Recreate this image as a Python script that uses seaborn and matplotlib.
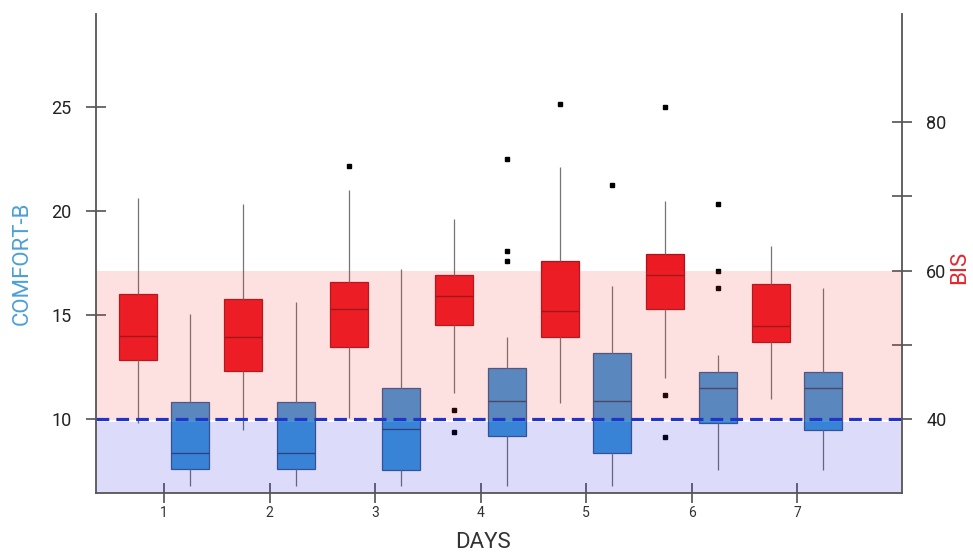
import pandas as pd
import seaborn as sns
import matplotlib.pyplot as plt

sns.set_style("white")
plt.rcParams['font.family'] = ['Roboto', 'DejaVu Sans']

days = [1, 2, 3, 4, 5, 6, 7]

# COMFORT-B (left axis) box stats
cb_low = [6.80, 6.80, 6.77, 6.77, 6.77, 7.53, 7.53]
cb_q1 = [7.60, 7.58, 7.57, 9.20, 8.35, 9.80, 9.45]
cb_med = [8.38, 8.38, 9.54, 10.85, 10.85, 11.47, 11.47]
cb_q3 = [10.80, 10.82, 11.50, 12.43, 13.15, 12.24, 12.24]
cb_high = [15.05, 15.60, 17.19, 13.93, 16.38, 13.08, 16.31]
cb_out = [[], [], [], [22.5, 18.06, 17.59], [21.24], [20.34, 17.12, 16.31], []]

# BIS (right axis) box stats
bis_low = [39.4, 38.5, 40.1, 43.5, 42.2, 45.5, 42.7]
bis_q1 = [48.0, 46.5, 49.7, 52.7, 51.1, 54.8, 50.3]
bis_med = [51.2, 51.0, 54.8, 56.6, 54.6, 59.4, 52.5]
bis_q3 = [56.9, 56.1, 58.5, 59.4, 61.3, 62.2, 58.2]
bis_high = [69.8, 69.0, 70.9, 67.0, 73.9, 69.4, 63.3]
bis_out = [[], [], [74.1], [41.2, 38.2], [82.4], [82.0, 43.2, 37.5], []]

bis_ticks = [40, 50, 60, 70, 80]
bis_ticklabels = ['40', '', '60', '', '80']
cb_ticks = [10, 15, 20, 25]


def expand(low, q1, med, q3, high, out):
    # 17 values whose quartiles / whisker ends give back the box stats
    below = [low] + [v for v in out if v < q1]
    above = [high] + [v for v in out if v > q3]
    below += [q1] * (4 - len(below))
    above += [q3] * (4 - len(above))
    return below + [q1] + [med] * 7 + [q3] + above


rows = []
for i, d in enumerate(days):
    for v in expand(cb_low[i], cb_q1[i], cb_med[i], cb_q3[i], cb_high[i], cb_out[i]):
        rows.append((d, 'COMFORT-B', v))
    for v in expand(bis_low[i], bis_q1[i], bis_med[i], bis_q3[i], bis_high[i], bis_out[i]):
        rows.append((d, 'BIS', v))
df = pd.DataFrame(rows, columns=['day', 'scale', 'value'])

palette = {'BIS': '#EC1A22', 'COMFORT-B': '#4097D6'}

fig, ax = plt.subplots(figsize=(9.73, 5.54), dpi=100)
fig.subplots_adjust(left=0.0987, right=0.927, bottom=0.110, top=0.975)
ax2 = ax.twinx()

box_kw = dict(x='day', y='value', hue='scale', hue_order=['BIS', 'COMFORT-B'],
              order=days, palette=palette, dodge=True, width=1.0, gap=0.28,
              saturation=1, linewidth=0.9, showcaps=False,
              whiskerprops=dict(color='#757575', linewidth=0.9),
              flierprops=dict(marker='s', markersize=3, markerfacecolor='black',
                              markeredgecolor='black'),
              legend=False)

sns.boxplot(data=df[df['scale'] == 'COMFORT-B'], ax=ax, linecolor='#3A5C8C',
            medianprops=dict(color='#2F4B72', linewidth=1.0), **box_kw)
sns.boxplot(data=df[df['scale'] == 'BIS'], ax=ax2, linecolor='#A8161C',
            medianprops=dict(color='#961217', linewidth=1.0), **box_kw)

# translucent bands on top of the boxes (gives the two-tone blue boxes)
ax2.axhspan(39.8, 60, color='#F23030', alpha=0.15, lw=0, zorder=3)
ax2.axhspan(30, 39.55, color='#1616DE', alpha=0.15, lw=0, zorder=3)
ax2.axhline(40, color='#2233CC', lw=2.3, ls=(0, (4, 2.2)), zorder=6)

ax.set_xlim(-0.645, 6.995)
ax.set_ylim(6.44, 29.47)
ax2.set_ylim(30.0, 94.6)

ax.set_xticks(range(len(days)))
ax.set_xticklabels([str(d) for d in days])
ax.set_yticks(cb_ticks)
ax2.set_yticks(bis_ticks)
ax2.set_yticklabels(bis_ticklabels)

for a in (ax, ax2):
    for s in a.spines.values():
        s.set_visible(False)
for side in ('left', 'bottom', 'right'):
    ax2.spines[side].set_visible(True)
    ax2.spines[side].set_color('#555555')
    ax2.spines[side].set_linewidth(1.3)
    ax2.spines[side].set_zorder(10)

ax.tick_params(axis='x', direction='inout', length=15, width=1.1, color='#444444',
               labelsize=10, labelcolor='#333333', pad=2, bottom=True)
ax.tick_params(axis='y', direction='inout', length=15, width=1.1, color='#444444',
               labelsize=13, labelcolor='#222222', pad=10, left=True)
ax2.tick_params(axis='y', direction='inout', length=15, width=1.1, color='#444444',
                labelsize=13, labelcolor='#222222', pad=10, right=True)

ax.set_xlabel('DAYS', fontsize=16, color='#333333')
ax.xaxis.set_label_coords(0.48, -0.082)
ax.set_ylabel('COMFORT-B', fontsize=16, color='#4AA0D8')
ax.yaxis.set_label_coords(-0.078, 0.48)
ax2.set_ylabel('BIS', fontsize=16, color='#E8262C')
ax2.yaxis.set_label_coords(1.058, 0.47)

ax.grid(False)
ax2.grid(False)

fig.savefig('out.png', dpi=100)
